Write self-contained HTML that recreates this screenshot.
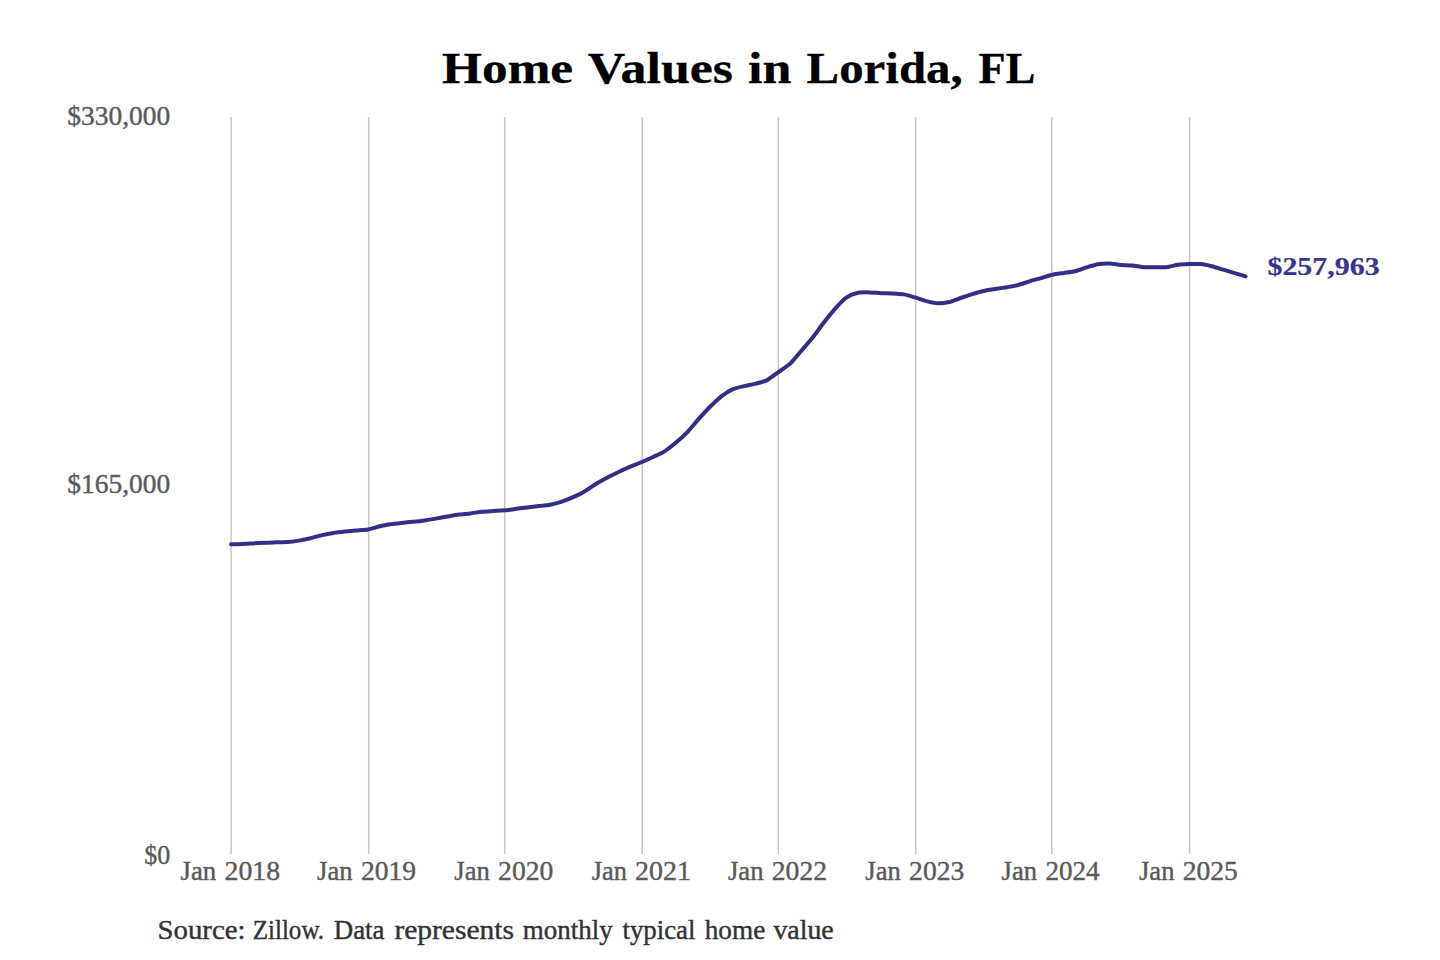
<!DOCTYPE html>
<html>
<head>
<meta charset="utf-8">
<style>
html,body{margin:0;padding:0;background:#fff;width:1440px;height:960px;overflow:hidden;}
svg{display:block;}
text{font-family:"Liberation Serif",serif;}
</style>
</head>
<body>
<svg width="1440" height="960" viewBox="0 0 1440 960">
<rect x="0" y="0" width="1440" height="960" fill="#fff"/>
<g stroke="#c6c6c6" stroke-width="1.5">
<line x1="231.1" y1="117" x2="231.1" y2="854"/>
<line x1="368.7" y1="117" x2="368.7" y2="854"/>
<line x1="504.7" y1="117" x2="504.7" y2="854"/>
<line x1="642.2" y1="117" x2="642.2" y2="854"/>
<line x1="778.3" y1="117" x2="778.3" y2="854"/>
<line x1="915.7" y1="117" x2="915.7" y2="854"/>
<line x1="1051.8" y1="117" x2="1051.8" y2="854"/>
<line x1="1189.6" y1="117" x2="1189.6" y2="854"/>
</g>
<path fill="none" stroke="#342e86" stroke-width="4.0" stroke-linecap="round" stroke-linejoin="round" d="M231.10,544.30 C232.26,544.27 240.49,544.09 242.70,544.00 C244.91,543.91 250.99,543.52 253.20,543.40 C255.41,543.28 262.51,542.92 264.80,542.80 C267.09,542.68 273.81,542.27 276.10,542.20 C278.39,542.13 285.42,542.26 287.70,542.10 C289.98,541.94 296.61,540.99 298.90,540.60 C301.19,540.21 308.27,538.75 310.60,538.20 C312.93,537.65 319.92,535.63 322.20,535.10 C324.48,534.57 331.11,533.26 333.40,532.90 C335.69,532.54 342.81,531.74 345.10,531.50 C347.39,531.26 354.02,530.70 356.30,530.50 C358.58,530.30 365.58,529.92 367.90,529.50 C370.22,529.08 377.29,526.82 379.50,526.30 C381.71,525.77 387.78,524.59 390.00,524.25 C392.22,523.91 399.41,523.14 401.70,522.90 C403.99,522.65 410.62,522.05 412.90,521.80 C415.18,521.55 422.21,520.72 424.50,520.40 C426.79,520.08 433.51,518.99 435.80,518.60 C438.09,518.21 445.08,516.91 447.40,516.50 C449.72,516.09 456.71,514.81 459.00,514.50 C461.29,514.19 468.01,513.68 470.30,513.40 C472.59,513.12 479.62,511.94 481.90,511.70 C484.18,511.46 490.82,511.14 493.10,511.00 C495.38,510.86 502.37,510.52 504.70,510.30 C507.03,510.08 514.15,509.09 516.40,508.80 C518.65,508.51 524.95,507.67 527.20,507.40 C529.45,507.13 536.61,506.37 538.90,506.10 C541.19,505.83 547.82,505.14 550.10,504.70 C552.38,504.26 559.41,502.45 561.70,501.70 C563.99,500.95 570.71,498.22 573.00,497.20 C575.29,496.18 582.28,492.84 584.60,491.50 C586.92,490.16 593.91,485.20 596.20,483.80 C598.49,482.40 605.21,478.70 607.50,477.50 C609.79,476.30 616.82,472.88 619.10,471.80 C621.38,470.72 628.02,467.68 630.30,466.70 C632.58,465.72 639.57,463.00 641.90,462.00 C644.23,461.00 651.38,457.74 653.60,456.70 C655.82,455.66 661.89,452.99 664.10,451.60 C666.31,450.21 673.42,444.70 675.70,442.80 C677.98,440.90 684.62,434.96 686.90,432.60 C689.18,430.24 696.21,421.76 698.50,419.20 C700.79,416.64 707.51,409.29 709.80,407.00 C712.09,404.71 719.08,398.08 721.40,396.30 C723.72,394.52 730.71,390.22 733.00,389.20 C735.29,388.18 742.01,386.66 744.30,386.10 C746.59,385.54 753.62,384.20 755.90,383.60 C758.18,383.00 764.81,381.28 767.10,380.10 C769.39,378.92 776.47,373.47 778.80,371.80 C781.13,370.13 788.19,365.45 790.40,363.40 C792.61,361.35 798.69,353.86 800.90,351.30 C803.11,348.74 810.22,340.65 812.50,337.80 C814.78,334.95 821.41,325.74 823.70,322.80 C825.99,319.86 833.11,310.94 835.40,308.40 C837.69,305.86 844.32,298.96 846.60,297.40 C848.88,295.84 855.87,293.30 858.20,292.80 C860.53,292.30 867.61,292.36 869.90,292.40 C872.19,292.44 878.82,293.10 881.10,293.20 C883.38,293.30 890.41,293.28 892.70,293.40 C894.99,293.52 901.71,293.98 904.00,294.40 C906.29,294.82 913.28,296.90 915.60,297.60 C917.92,298.30 924.99,300.83 927.20,301.40 C929.41,301.97 935.49,303.24 937.70,303.30 C939.91,303.36 947.01,302.53 949.30,302.00 C951.59,301.47 958.31,298.78 960.60,298.00 C962.89,297.22 969.92,294.90 972.20,294.20 C974.48,293.50 981.11,291.52 983.40,291.00 C985.69,290.48 992.77,289.38 995.10,289.00 C997.43,288.62 1004.42,287.59 1006.70,287.20 C1008.98,286.81 1015.62,285.69 1017.90,285.10 C1020.18,284.51 1027.21,282.00 1029.50,281.30 C1031.79,280.60 1038.51,278.76 1040.80,278.10 C1043.09,277.44 1050.08,275.22 1052.40,274.70 C1054.72,274.18 1061.75,273.25 1064.00,272.90 C1066.25,272.55 1072.65,271.75 1074.90,271.20 C1077.15,270.65 1084.21,268.10 1086.50,267.40 C1088.79,266.70 1095.51,264.59 1097.80,264.20 C1100.09,263.81 1107.12,263.43 1109.40,263.50 C1111.68,263.57 1118.32,264.70 1120.60,264.90 C1122.88,265.10 1129.87,265.27 1132.20,265.50 C1134.53,265.73 1141.61,267.03 1143.90,267.20 C1146.19,267.37 1152.82,267.20 1155.10,267.20 C1157.38,267.20 1164.41,267.44 1166.70,267.20 C1168.99,266.96 1175.71,265.11 1178.00,264.80 C1180.29,264.49 1187.28,264.17 1189.60,264.10 C1191.92,264.03 1198.99,263.88 1201.20,264.10 C1203.41,264.32 1209.49,265.74 1211.70,266.30 C1213.91,266.86 1221.01,269.02 1223.30,269.70 C1225.59,270.38 1232.37,272.43 1234.60,273.10 C1236.83,273.77 1244.50,276.07 1245.60,276.40"/>
<text x="442.12" y="82.8" font-size="43.5" font-weight="bold" fill="#000" textLength="131.02" lengthAdjust="spacingAndGlyphs" stroke="#000" stroke-width="0.3">Home</text>
<text x="587.8" y="82.8" font-size="43.5" font-weight="bold" fill="#000" textLength="145.22" lengthAdjust="spacingAndGlyphs" stroke="#000" stroke-width="0.3">Values</text>
<text x="748.1" y="82.8" font-size="43.5" font-weight="bold" fill="#000" textLength="43.43" lengthAdjust="spacingAndGlyphs" stroke="#000" stroke-width="0.3">in</text>
<text x="806.58" y="82.8" font-size="43.5" font-weight="bold" fill="#000" textLength="156.15" lengthAdjust="spacingAndGlyphs" stroke="#000" stroke-width="0.3">Lorida,</text>
<text x="978.58" y="82.8" font-size="43.5" font-weight="bold" fill="#000" textLength="56.75" lengthAdjust="spacingAndGlyphs" stroke="#000" stroke-width="0.3">FL</text>
<text x="67.26" y="124.6" font-size="26.3" font-weight="normal" fill="#5a5a5a" textLength="103.0" lengthAdjust="spacingAndGlyphs" stroke="#5a5a5a" stroke-width="0.4">$330,000</text>
<text x="67.26" y="492.5" font-size="26.3" font-weight="normal" fill="#5a5a5a" textLength="103.0" lengthAdjust="spacingAndGlyphs" stroke="#5a5a5a" stroke-width="0.4">$165,000</text>
<text x="144.31" y="863.9" font-size="26.3" font-weight="normal" fill="#5a5a5a" textLength="25.98" lengthAdjust="spacingAndGlyphs" stroke="#5a5a5a" stroke-width="0.4">$0</text>
<text x="1267.45" y="274.8" font-size="26.0" font-weight="bold" fill="#3a358c" textLength="112.23" lengthAdjust="spacingAndGlyphs" stroke="#3a358c" stroke-width="0.2">$257,963</text>
<text x="157.51" y="938.7" font-size="26.3" font-weight="normal" fill="#333" textLength="88.06" lengthAdjust="spacingAndGlyphs" stroke="#333" stroke-width="0.4">Source:</text>
<text x="252.65" y="938.7" font-size="26.3" font-weight="normal" fill="#333" textLength="71.51" lengthAdjust="spacingAndGlyphs" stroke="#333" stroke-width="0.4">Zillow.</text>
<text x="333.78" y="938.7" font-size="26.3" font-weight="normal" fill="#333" textLength="50.76" lengthAdjust="spacingAndGlyphs" stroke="#333" stroke-width="0.4">Data</text>
<text x="394.4" y="938.7" font-size="26.3" font-weight="normal" fill="#333" textLength="119.58" lengthAdjust="spacingAndGlyphs" stroke="#333" stroke-width="0.4">represents</text>
<text x="522.8" y="938.7" font-size="26.3" font-weight="normal" fill="#333" textLength="89.96" lengthAdjust="spacingAndGlyphs" stroke="#333" stroke-width="0.4">monthly</text>
<text x="622.5" y="938.7" font-size="26.3" font-weight="normal" fill="#333" textLength="72.97" lengthAdjust="spacingAndGlyphs" stroke="#333" stroke-width="0.4">typical</text>
<text x="704.7" y="938.7" font-size="26.3" font-weight="normal" fill="#333" textLength="60.55" lengthAdjust="spacingAndGlyphs" stroke="#333" stroke-width="0.4">home</text>
<text x="773.4" y="938.7" font-size="26.3" font-weight="normal" fill="#333" textLength="60.31" lengthAdjust="spacingAndGlyphs" stroke="#333" stroke-width="0.4">value</text>
<text x="180.5" y="880.0" font-size="26.3" font-weight="normal" fill="#5a5a5a" textLength="35.66" lengthAdjust="spacingAndGlyphs" stroke="#5a5a5a" stroke-width="0.4">Jan</text>
<text x="224.55" y="880.0" font-size="26.3" font-weight="normal" fill="#5a5a5a" textLength="55.48" lengthAdjust="spacingAndGlyphs" stroke="#5a5a5a" stroke-width="0.4">2018</text>
<text x="317.1" y="880.0" font-size="26.3" font-weight="normal" fill="#5a5a5a" textLength="35.48" lengthAdjust="spacingAndGlyphs" stroke="#5a5a5a" stroke-width="0.4">Jan</text>
<text x="360.92" y="880.0" font-size="26.3" font-weight="normal" fill="#5a5a5a" textLength="55.2" lengthAdjust="spacingAndGlyphs" stroke="#5a5a5a" stroke-width="0.4">2019</text>
<text x="454.3" y="880.0" font-size="26.3" font-weight="normal" fill="#5a5a5a" textLength="35.48" lengthAdjust="spacingAndGlyphs" stroke="#5a5a5a" stroke-width="0.4">Jan</text>
<text x="498.12" y="880.0" font-size="26.3" font-weight="normal" fill="#5a5a5a" textLength="55.2" lengthAdjust="spacingAndGlyphs" stroke="#5a5a5a" stroke-width="0.4">2020</text>
<text x="591.7" y="880.0" font-size="26.3" font-weight="normal" fill="#5a5a5a" textLength="35.16" lengthAdjust="spacingAndGlyphs" stroke="#5a5a5a" stroke-width="0.4">Jan</text>
<text x="635.1" y="880.0" font-size="26.3" font-weight="normal" fill="#5a5a5a" textLength="55.79" lengthAdjust="spacingAndGlyphs" stroke="#5a5a5a" stroke-width="0.4">2021</text>
<text x="728.0" y="880.0" font-size="26.3" font-weight="normal" fill="#5a5a5a" textLength="35.48" lengthAdjust="spacingAndGlyphs" stroke="#5a5a5a" stroke-width="0.4">Jan</text>
<text x="771.82" y="880.0" font-size="26.3" font-weight="normal" fill="#5a5a5a" textLength="55.2" lengthAdjust="spacingAndGlyphs" stroke="#5a5a5a" stroke-width="0.4">2022</text>
<text x="865.3" y="880.0" font-size="26.3" font-weight="normal" fill="#5a5a5a" textLength="35.48" lengthAdjust="spacingAndGlyphs" stroke="#5a5a5a" stroke-width="0.4">Jan</text>
<text x="909.12" y="880.0" font-size="26.3" font-weight="normal" fill="#5a5a5a" textLength="55.2" lengthAdjust="spacingAndGlyphs" stroke="#5a5a5a" stroke-width="0.4">2023</text>
<text x="1001.6" y="880.0" font-size="26.3" font-weight="normal" fill="#5a5a5a" textLength="35.48" lengthAdjust="spacingAndGlyphs" stroke="#5a5a5a" stroke-width="0.4">Jan</text>
<text x="1045.44" y="880.0" font-size="26.3" font-weight="normal" fill="#5a5a5a" textLength="54.14" lengthAdjust="spacingAndGlyphs" stroke="#5a5a5a" stroke-width="0.4">2024</text>
<text x="1139.0" y="880.0" font-size="26.3" font-weight="normal" fill="#5a5a5a" textLength="35.45" lengthAdjust="spacingAndGlyphs" stroke="#5a5a5a" stroke-width="0.4">Jan</text>
<text x="1182.78" y="880.0" font-size="26.3" font-weight="normal" fill="#5a5a5a" textLength="55.14" lengthAdjust="spacingAndGlyphs" stroke="#5a5a5a" stroke-width="0.4">2025</text>
</svg>
</body>
</html>
